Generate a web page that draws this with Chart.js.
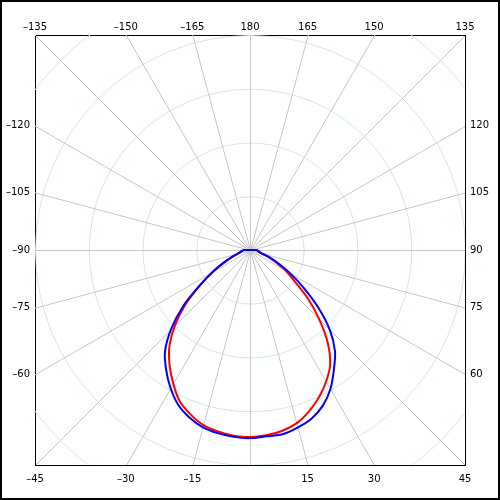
<!DOCTYPE html>
<html><head><meta charset="utf-8">
<script src="https://cdn.jsdelivr.net/npm/chart.js@4.4.1/dist/chart.umd.min.js"></script>
<style>html,body{margin:0;padding:0;background:#fff;} canvas{display:block;}</style>
</head><body>
<canvas id="c" width="500" height="500"></canvas>
<script>
// Polar angles (degrees, 0 = straight down, positive to the right)
const angles = [-90,-85,-80,-75,-70,-65,-60,-55,-50,-45,-40,-35,-30,-25,-20,-15,-10,-5,0,
                5,10,15,20,25,30,35,40,45,50,55,60,65,70,75,80,85,90];
// Intensities (one grid circle = 100)
const seriesBlue = [13,14,17,21,33,51,78,113,162,207,246,272,296,317,331,341,346,349,350,
                    348,348,342,334,320,299,272,246,210,165,121,86,58,36,20,17,14,13];
const seriesRed  = [13,14,17,21,33,51,78,112,156,197,233,261,286,310,325,337,343,347,348,
                    346,342,334,320,303,283,260,225,182,141,101,77,51,35,21,17,14,13];
const bottomLabels = [-45,-30,-15,15,30,45];
const topLabels = [-135,-150,-165,180,165,150,135];
const leftLabels = [-120,-105,-90,-75,-60];
const rightLabels = [120,105,90,75,60];
const circleValues = [100,200,300,400,500];
const spokeAngles = [0,15,30,45,60,75,90,105,120,135,150,165,180,195,210,225,240,255,270,285,300,315,330,345];
const R = 400;

const rad = d => d*Math.PI/180;
function toXY(deg, r){ const t = rad(deg); return {x: r*Math.sin(t), y: -r*Math.cos(t)}; }
function closedCurve(values){
  const pts = angles.map((a,i)=>toXY(a, values[i]));
  pts.push(pts[0]);
  return pts;
}
const bottomPos = d => R*Math.tan(rad(d));
const topPos = d => R*Math.sin(rad(d))/(-Math.cos(rad(d)));
const leftPos = d => R*Math.cos(rad(d))/Math.sin(rad(d));
const rightPos = d => -R*Math.cos(rad(d))/Math.sin(rad(d));
const fmt = n => n < 0 ? '\u2013' + Math.abs(n) : String(n);

function edgeAxis(position, axis, labels, posFn, pad){
  const horiz = axis === 'x';
  return {
    type:'linear', position, axis, min:-R, max:R,
    grid:{display:false, drawTicks:false},
    border:{display:true, color:'#000', width:1},
    ticks:{autoSkip:false, maxRotation:0, minRotation:0, padding:pad, color:'#000',
      font:{family:'DejaVu Sans', size:10},
      callback:(v,i)=>fmt(labels[i])},
    afterBuildTicks: s => { s.ticks = labels.map(l => ({value: posFn(l)})); },
    afterFit: s => { if (horiz) s.height = 35; else s.width = 35; }
  };
}

const gridPlugin = {
  id:'polarGrid',
  beforeDatasetsDraw(chart){
    const {ctx, chartArea:a, scales:{x,y}} = chart;
    const cx = x.getPixelForValue(0)+0.5, cy = y.getPixelForValue(0)+0.5;
    ctx.save();
    ctx.beginPath(); ctx.rect(a.left,a.top,a.right-a.left,a.bottom-a.top); ctx.clip();
    ctx.lineWidth = 1; ctx.strokeStyle = '#cce6ef';
    circleValues.forEach(v => {
      const r = x.getPixelForValue(v) - x.getPixelForValue(0);
      ctx.beginPath(); ctx.arc(cx,cy,r,0,2*Math.PI); ctx.stroke();
    });
    ctx.strokeStyle = '#c6c6c6';
    spokeAngles.forEach(d => {
      const p = toXY(d, 2000);
      ctx.beginPath(); ctx.moveTo(cx,cy);
      ctx.lineTo(x.getPixelForValue(p.x)+0.5, y.getPixelForValue(p.y)+0.5); ctx.stroke();
    });
    ctx.restore();
  }
};
const framePlugin = {
  id:'frame',
  afterDraw(chart){
    const ctx = chart.ctx;
    ctx.save(); ctx.strokeStyle = '#000'; ctx.lineWidth = 2;
    ctx.strokeRect(1,1,chart.width-2,chart.height-2); ctx.restore();
  }
};

new Chart(document.getElementById('c'), {
  type:'scatter',
  data:{ datasets:[
    {label:'C0-C180', data: closedCurve(seriesBlue), borderColor:'#0000ff', borderWidth:2,
     showLine:true, pointRadius:0, tension:0.3, fill:false, xAxisID:'x', yAxisID:'y'},
    {label:'C90-C270', data: closedCurve(seriesRed), borderColor:'#ff0000', borderWidth:2,
     showLine:true, pointRadius:0, tension:0.3, fill:false, xAxisID:'x', yAxisID:'y'}
  ]},
  options:{
    responsive:false, animation:false, devicePixelRatio:1,
    layout:{padding:0},
    plugins:{legend:{display:false}, tooltip:{enabled:false}},
    scales:{
      x: edgeAxis('bottom','x',bottomLabels,bottomPos,8),
      x2: edgeAxis('top','x',topLabels,topPos,2),
      y: edgeAxis('left','y',leftLabels,leftPos,5),
      y2: edgeAxis('right','y',rightLabels,rightPos,5)
    }
  },
  plugins:[gridPlugin, framePlugin]
});
</script>
</body></html>
